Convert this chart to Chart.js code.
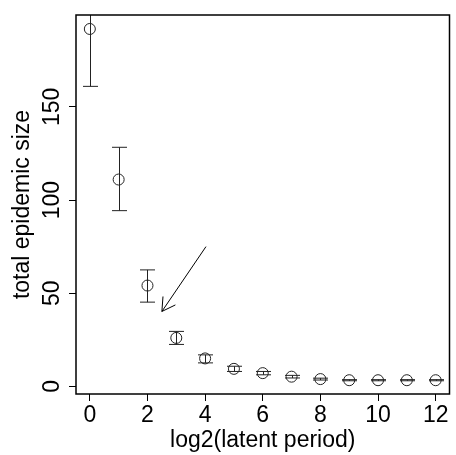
<!DOCTYPE html>
<html lang="en">
  <head>
    <meta charset="UTF-8" />
    <title>epidemic size</title>
    <script src="https://cdn.jsdelivr.net/npm/chart.js"></script>
    <style>
      html, body { margin: 0; padding: 0; background: #fff; }
      #wrap { width: 456px; height: 455px; }
    </style>
  </head>
  <body>
    <div id="wrap"><canvas id="sizeChart" width="456" height="455"></canvas></div>

    <script>
      // data
      const xValues = [0, 1, 2, 3, 4, 5, 6, 7, 8, 9, 10, 11, 12];
      const sizeMean = [191.8, 111, 54.1, 26, 15, 9.4, 7.1, 5.2, 3.9, 3.3, 3.3, 3.3, 3.3];
      const sizeLow = [161, 94.3, 45.2, 22.5, 12.6, 8.0, 6.2, 4.5, 3.4, 3.0, 3.0, 3.0, 3.0];
      const sizeHigh = [222.6, 128.3, 62.5, 29.5, 16.9, 10.8, 8.0, 5.9, 4.4, 3.6, 3.6, 3.6, 3.6];
      const xTicks = [0, 2, 4, 6, 8, 10, 12];
      const yTicks = [0, 50, 100, 150];
      // arrow pointing at the log2 = 2..3 region
      const arrowFrom = { x: 4.03, y: 75 };
      const arrowTo = { x: 2.5, y: 40.2 };

      const ink = '#222';
      const fontFam = 'Liberation Sans';

      // error bars, frame and the arrow
      const extras = {
        id: 'extras',
        afterDatasetsDraw(chart) {
          const { ctx, chartArea: a, scales } = chart;
          const sx = scales.x, sy = scales.y;
          ctx.save();
          ctx.beginPath();
          ctx.rect(a.left, a.top, a.right - a.left, a.bottom - a.top);
          ctx.clip();
          ctx.strokeStyle = ink;
          ctx.lineWidth = 1;
          xValues.forEach((xv, i) => {
            const px = Math.round(sx.getPixelForValue(xv)) + 0.5;
            const lo = sy.getPixelForValue(sizeLow[i]);
            const hi = sy.getPixelForValue(sizeHigh[i]);
            ctx.beginPath();
            ctx.moveTo(px, lo); ctx.lineTo(px, hi);
            ctx.moveTo(px - 7.5, lo); ctx.lineTo(px + 7.5, lo);
            ctx.moveTo(px - 7.5, hi); ctx.lineTo(px + 7.5, hi);
            ctx.stroke();
          });
          // arrow
          const x0 = sx.getPixelForValue(arrowFrom.x), y0 = sy.getPixelForValue(arrowFrom.y);
          const x1 = sx.getPixelForValue(arrowTo.x), y1 = sy.getPixelForValue(arrowTo.y);
          const ang = Math.atan2(y1 - y0, x1 - x0);
          const head = 15, spread = Math.PI / 6;
          ctx.strokeStyle = '#000';
          ctx.beginPath();
          ctx.moveTo(x0, y0); ctx.lineTo(x1, y1);
          ctx.moveTo(x1 - head * Math.cos(ang - spread), y1 - head * Math.sin(ang - spread));
          ctx.lineTo(x1, y1);
          ctx.lineTo(x1 - head * Math.cos(ang + spread), y1 - head * Math.sin(ang + spread));
          ctx.stroke();
          ctx.restore();

          // box round the plot
          ctx.save();
          ctx.strokeStyle = '#000';
          ctx.lineWidth = 1.5;
          ctx.strokeRect(a.left, a.top, a.right - a.left, a.bottom - a.top);
          ctx.restore();
        }
      };

      document.addEventListener('DOMContentLoaded', function () {
        const ctx = document.getElementById('sizeChart').getContext('2d');
        new Chart(ctx, {
          type: 'scatter',
          data: {
            datasets: [{
              data: xValues.map((x, i) => ({ x: x, y: sizeMean[i] })),
              pointStyle: 'circle',
              pointRadius: 5.5,
              pointHoverRadius: 5.5,
              pointBorderWidth: 1,
              pointBorderColor: ink,
              pointBackgroundColor: 'rgba(0,0,0,0)'
            }]
          },
          options: {
            responsive: false,
            animation: false,
            events: [],
            layout: { padding: { top: 15, right: 1, left: 0, bottom: 0 } },
            plugins: { legend: { display: false }, tooltip: { enabled: false } },
            scales: {
              x: {
                type: 'linear',
                min: -0.48,
                max: 12.48,
                afterBuildTicks: s => { s.ticks = xTicks.map(v => ({ value: v })); },
                afterFit: s => { s.height = 61; },
                grid: { drawOnChartArea: false, drawTicks: true, tickLength: 7, tickColor: '#000', tickWidth: 1 },
                border: { display: false },
                ticks: {
                  color: '#000',
                  padding: 1,
                  maxRotation: 0,
                  autoSkip: false,
                  font: { family: fontFam, size: 23 }
                },
                title: {
                  display: true,
                  text: 'log2(latent period)',
                  color: '#000',
                  font: { family: fontFam, size: 23, lineHeight: 1 },
                  padding: { top: 0, bottom: 3 }
                }
              },
              y: {
                type: 'linear',
                min: -4.1,
                max: 199.3,
                afterBuildTicks: s => { s.ticks = yTicks.map(v => ({ value: v })); },
                afterFit: s => { s.width = 76; },
                grid: { drawOnChartArea: false, drawTicks: true, tickLength: 7, tickColor: '#000', tickWidth: 1 },
                border: { display: false },
                ticks: {
                  color: '#000',
                  padding: -3,
                  minRotation: 90,
                  maxRotation: 90,
                  crossAlign: 'center',
                  autoSkip: false,
                  font: { family: fontFam, size: 23 }
                },
                title: {
                  display: true,
                  text: 'total epidemic size',
                  color: '#000',
                  font: { family: fontFam, size: 23, lineHeight: 1 },
                  padding: { top: 11.5, bottom: 0 }
                }
              }
            }
          },
          plugins: [extras]
        });
      });
    </script>
  </body>
</html>
